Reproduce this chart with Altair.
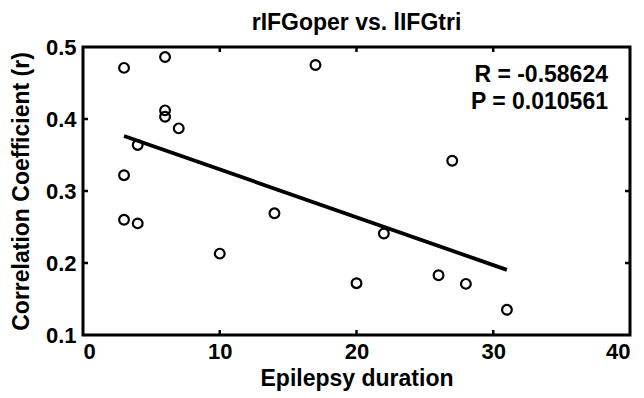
import altair as alt
import pandas as pd

# Data
duration = [3, 6, 17, 6, 6, 7, 4, 3, 3, 4, 14, 10, 27, 22, 20, 26, 28, 31]
corr = [0.471, 0.486, 0.475, 0.412, 0.403, 0.387, 0.364, 0.322, 0.260, 0.255,
        0.269, 0.213, 0.342, 0.241, 0.172, 0.183, 0.171, 0.135]
x_ticks = [0, 10, 20, 30, 40]
y_ticks = [0.1, 0.2, 0.3, 0.4, 0.5]
inner_x_ticks = [10, 20, 30]
inner_y_ticks = [0.2, 0.3, 0.4]
stats_text = ["R = -0.58624", "P = 0.010561"]
title_text = "rIFGoper vs. lIFGtri"

FONT = "Liberation Sans"
W, H = 547, 288

df = pd.DataFrame({"duration": duration, "corr": corr})
xt = pd.DataFrame({"duration": inner_x_ticks})
yt = pd.DataFrame({"corr": inner_y_ticks})
one = pd.DataFrame({"k": [0]})

xscale = alt.Scale(domain=[0, 40], nice=False, zero=False)
yscale = alt.Scale(domain=[0.1, 0.5], nice=False, zero=False)

xaxis = alt.Axis(values=x_ticks, format="d", title="Epilepsy duration", ticks=False,
                 grid=False, domain=False, labelPadding=6, titlePadding=5,
                 labelFontSize=22, titleFontSize=23, labelFont=FONT, titleFont=FONT,
                 labelFontWeight="bold", titleFontWeight="bold",
                 labelColor="black", titleColor="black")
yaxis = alt.Axis(values=y_ticks, format=".1f", title="Correlation Coefficient (r)",
                 ticks=False, grid=False, domain=False, labelPadding=7, titlePadding=12,
                 labelFontSize=22, titleFontSize=23, labelFont=FONT, titleFont=FONT,
                 labelFontWeight="bold", titleFontWeight="bold",
                 labelColor="black", titleColor="black")

points = alt.Chart(df).mark_point(shape="circle", filled=False, size=95,
                                  strokeWidth=2.2, color="black", opacity=1).encode(
    x=alt.X("duration:Q", scale=xscale, axis=xaxis),
    y=alt.Y("corr:Q", scale=yscale, axis=yaxis),
)

fit = alt.Chart(df).transform_regression("duration", "corr").mark_line(
    color="black", strokeWidth=3.8).encode(
    x=alt.X("duration:Q", scale=xscale),
    y=alt.Y("corr:Q", scale=yscale),
)

tick_len = 5
bottom_ticks = alt.Chart(xt).mark_rule(color="black", strokeWidth=2.5).encode(
    x=alt.X("duration:Q", scale=xscale), y=alt.value(H), y2=alt.value(H - tick_len))
top_ticks = alt.Chart(xt).mark_rule(color="black", strokeWidth=2.5).encode(
    x=alt.X("duration:Q", scale=xscale), y=alt.value(0), y2=alt.value(tick_len))
left_ticks = alt.Chart(yt).mark_rule(color="black", strokeWidth=2.5).encode(
    y=alt.Y("corr:Q", scale=yscale), x=alt.value(0), x2=alt.value(tick_len))
right_ticks = alt.Chart(yt).mark_rule(color="black", strokeWidth=2.5).encode(
    y=alt.Y("corr:Q", scale=yscale), x=alt.value(W), x2=alt.value(W - tick_len))

stat1 = alt.Chart(one).mark_text(align="right", baseline="middle", font=FONT,
                                 fontSize=23, fontWeight="bold", color="black").encode(
    x=alt.value(525), y=alt.value(28), text=alt.value(stats_text[0]))
stat2 = alt.Chart(one).mark_text(align="right", baseline="middle", font=FONT,
                                 fontSize=23, fontWeight="bold", color="black").encode(
    x=alt.value(525), y=alt.value(55), text=alt.value(stats_text[1]))

chart = alt.layer(fit, points, bottom_ticks, top_ticks, left_ticks, right_ticks,
                  stat1, stat2).properties(
    width=W, height=H,
    title=alt.TitleParams(title_text, font=FONT, fontSize=23, fontWeight="bold",
                          color="black", anchor="middle", frame="group", offset=1),
    autosize=alt.AutoSizeParams(type="none"),
    padding={"left": 75, "top": 39, "right": 6, "bottom": 61},
    background="white",
).configure_view(stroke="black", strokeWidth=3).configure_axis(
    labelFontWeight="bold", titleFontWeight="bold", labelFont=FONT, titleFont=FONT
)

chart.save("out.html", embed_options={"renderer": "svg", "actions": False})
